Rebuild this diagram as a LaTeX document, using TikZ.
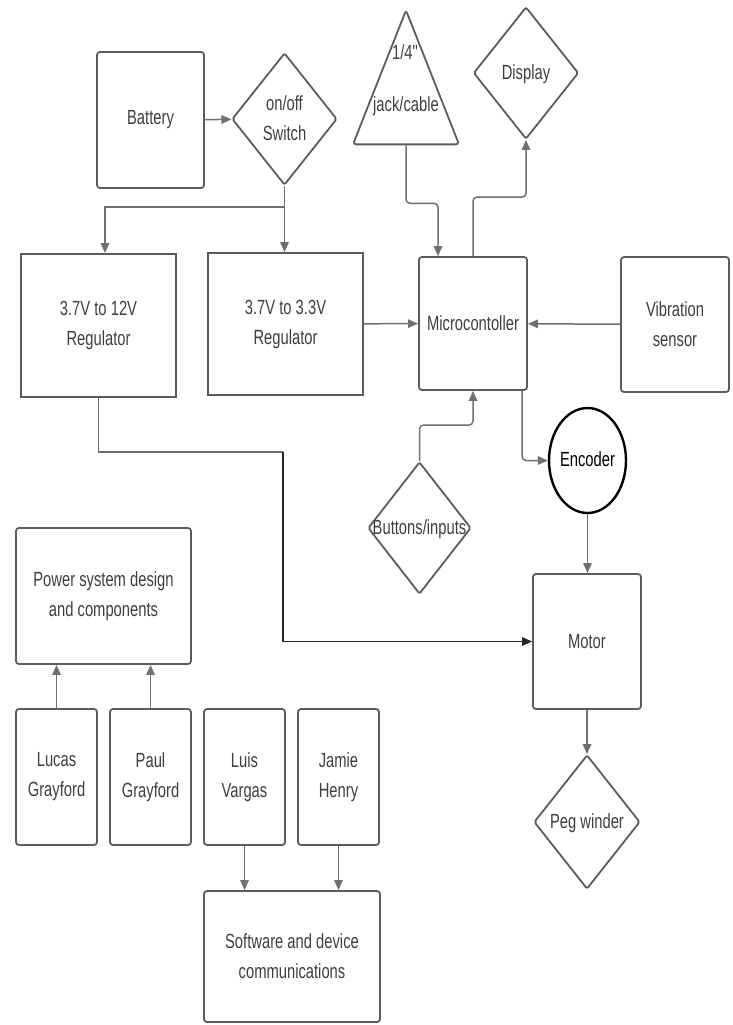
\documentclass[tikz,border=0pt]{standalone}
\usepackage{fontspec}
\setmainfont{Liberation Sans}[FakeStretch=0.72]
\usepackage{tikz}
\usetikzlibrary{arrows.meta, shapes.geometric}
\definecolor{bdLine}{RGB}{92,92,92}
\definecolor{bdWire}{RGB}{112,112,112}
\definecolor{bdText}{RGB}{62,62,62}
\newcommand{\ctext}[1]{\makebox[0pt]{\begin{tabular}{@{}c@{}}#1\end{tabular}}}

\begin{document}
\begin{tikzpicture}[x=1pt, y=-1pt,
    box/.style={draw=bdLine, line width=1.8pt, rounded corners=3pt, text=bdText,
      font=\fontsize{20.5}{30}\selectfont, align=center, inner sep=0pt},
    sqbox/.style={box, rounded corners=0pt},
    dia/.style={box, diamond, minimum width=105pt, minimum height=132pt, rounded corners=2pt},
    wire/.style={draw=bdWire, line width=1.5pt, -{Triangle[length=10pt, width=8.5pt]}},
    powerwire/.style={wire, draw=black!85}
  ]
    \useasboundingbox (0,0) rectangle (732,1025);

    % power side
    \node[box, minimum width=107pt, minimum height=136pt] (battery) at (150.5,120) {Battery};
    \node[dia] (switch) at (284.5,119) {\ctext{on/off\\Switch}};
    \node[sqbox, minimum width=155pt, minimum height=143pt] (reg12) at (98.5,325.5) {3.7V to 12V\\Regulator};
    \node[sqbox, minimum width=155pt, minimum height=142pt] (reg33) at (285.5,324) {3.7V to 3.3V\\Regulator};

    % control side
    \node[box, isosceles triangle, isosceles triangle stretches, shape border rotate=90,
      minimum width=106pt, minimum height=134pt, anchor=apex] (jack) at (406,8) {};
    \node[font=\fontsize{20.5}{30}\selectfont, text=bdText, align=center, inner sep=0pt] (jacktxt) at (406,80)
      {1/4\textquotedbl\\[22pt]jack/cable};
    \node[dia] (display) at (526,73) {\ctext{Display}};
    \node[box, minimum width=108pt, minimum height=133pt] (micro) at (473,323.5) {Microcontoller};
    \node[box, minimum width=108pt, minimum height=135pt] (vib) at (675,324.5) {Vibration\\sensor};
    \node[dia, minimum width=103pt] (buttons) at (419.5,528) {\ctext{Buttons/inputs}};
    \node[box, ellipse, draw=black, line width=2.4pt, text=black,
      minimum width=77pt, minimum height=105pt] (enc) at (587.5,460.5) {\ctext{Encoder}};
    \node[box, minimum width=108pt, minimum height=135pt] (motor) at (587,641.5) {Motor};
    \node[dia, minimum width=106pt, minimum height=134pt] (peg) at (587,822) {\ctext{Peg winder}};

    % team
    \node[box, minimum width=175pt, minimum height=136pt] (power) at (103.5,596) {Power system design\\and components};
    \node[box, minimum width=81pt, minimum height=136pt] (lucas) at (56.5,777) {Lucas\\Grayford};
    \node[box, minimum width=81pt, minimum height=136pt] (paul) at (150.5,777) {Paul\\Grayford};
    \node[box, minimum width=81pt, minimum height=136pt] (luis) at (244.5,777) {Luis\\Vargas};
    \node[box, minimum width=81pt, minimum height=136pt] (jamie) at (338.5,777) {Jamie\\Henry};
    \node[box, minimum width=176pt, minimum height=131pt] (soft) at (292,956.5) {Software and device\\communications};

    \coordinate (split) at (284.5,207);
    \coordinate (bend) at (283,452);

    \draw[wire] (battery) -- (switch);
    \draw[wire] (switch.south) -- (switch.south |- reg33.north);
    \draw[wire] (split) -| ([xshift=6.5pt]reg12.north);
    \draw[draw=bdWire, line width=1.5pt] (reg12.south) |- (bend);
    \draw[powerwire] (bend) |- (motor.west);
    \draw[wire] (reg33) -- (micro);
    \draw[wire] (vib) -- (micro);
    \draw[wire, rounded corners=4pt] (jack.south) -- ++(0,58) -| ([xshift=-35pt]micro.north);
    \draw[wire, rounded corners=4pt] (micro.north) -- ++(0,-59) -| (display.south);
    \draw[wire, rounded corners=4pt] (buttons.north) -- ++(0,-36) -| (micro.south);
    \draw[wire, rounded corners=4pt] ([xshift=49pt]micro.south) |- (enc.west);
    \draw[wire] (enc.south) -- (enc.south |- motor.north);
    \draw[wire] (motor) -- (peg);
    \draw[wire] (lucas.north) -- (lucas.north |- power.south);
    \draw[wire] (paul.north) -- (paul.north |- power.south);
    \draw[wire] (luis.south) -- (luis.south |- soft.north);
    \draw[wire] (jamie.south) -- (jamie.south |- soft.north);
  \end{tikzpicture}
\end{document}
